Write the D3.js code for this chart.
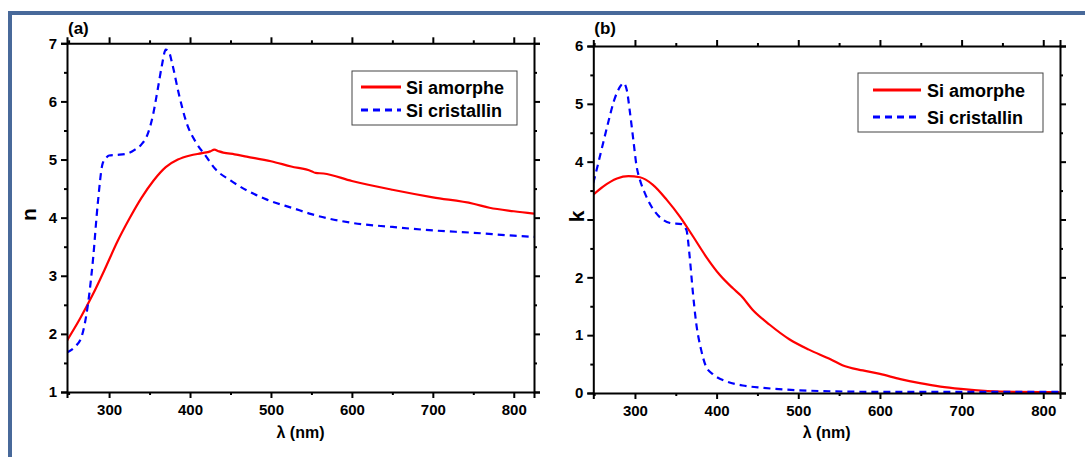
<!DOCTYPE html>
<html>
<head>
<meta charset="utf-8">
<script src="https://cdn.jsdelivr.net/npm/d3@7"></script>
<style>
  html, body { margin: 0; padding: 0; background: #fff; }
  svg { display: block; }
  text { font-family: "Liberation Sans", Arial, sans-serif; font-weight: bold; fill: #000; }
</style>
</head>
<body>
<svg id="chart" width="1085" height="457"></svg>
<script>
// ---- Data ----
const seriesNames = ["Si amorphe", "Si cristallin"];
const panelTitles = ["(a)", "(b)"];
const yLabels = ["n", "k"];
const xLabel = "λ (nm)";
const xTicksMajor = [300, 400, 500, 600, 700, 800];
const yTicksA = [1, 2, 3, 4, 5, 6, 7];
const yTicksB = [0, 1, 2, 3, 4, 5, 6];

// Panel (a): refractive index n
const lamA_amorphe = [248, 264, 280, 295, 310, 325, 340, 355, 370, 385, 400, 415, 425, 430, 436, 441, 455, 470, 500, 525, 550, 555, 565, 600, 650, 700, 750, 770, 800, 825];
const nA_amorphe   = [1.885, 2.26, 2.68, 3.12, 3.58, 3.98, 4.34, 4.64, 4.87, 5.00, 5.07, 5.11, 5.14, 5.17, 5.14, 5.12, 5.09, 5.05, 4.97, 4.88, 4.80, 4.77, 4.76, 4.63, 4.48, 4.35, 4.24, 4.17, 4.11, 4.07];
const lamA_crist   = [248, 258, 266, 274, 280, 286, 292, 297, 300, 310, 322, 332, 340, 348, 354, 360, 365, 370, 374, 378, 386, 396, 408, 419, 431, 450, 470, 495, 528, 550, 600, 650, 700, 750, 800, 825];
const nA_crist     = [1.68, 1.78, 1.95, 2.52, 3.26, 4.24, 4.93, 5.04, 5.07, 5.08, 5.10, 5.17, 5.26, 5.45, 5.75, 6.20, 6.60, 6.89, 6.85, 6.65, 6.14, 5.62, 5.28, 5.07, 4.84, 4.64, 4.47, 4.31, 4.16, 4.06, 3.91, 3.84, 3.78, 3.74, 3.69, 3.67];

// Panel (b): extinction coefficient k
const lamB_amorphe = [249, 261, 278, 292, 306, 322, 339, 355, 371, 387, 404, 420, 430, 444, 465, 489, 513, 540, 554, 579, 600, 625, 649, 674, 699, 732, 765, 820];
const kB_amorphe   = [3.43, 3.57, 3.71, 3.75, 3.73, 3.60, 3.34, 3.05, 2.71, 2.36, 2.04, 1.81, 1.68, 1.44, 1.18, 0.93, 0.75, 0.58, 0.48, 0.39, 0.33, 0.24, 0.17, 0.11, 0.07, 0.035, 0.02, 0.015];
const lamB_crist   = [249, 255, 261, 268, 274, 282, 286, 290, 294, 298, 302, 306, 312, 320, 332, 343, 357, 363, 367, 371, 375, 381, 387, 396, 412, 432, 456, 497, 538, 600, 700, 820];
const kB_crist     = [3.63, 3.97, 4.32, 4.72, 5.04, 5.30, 5.36, 5.24, 4.84, 4.38, 3.92, 3.69, 3.46, 3.23, 3.02, 2.94, 2.92, 2.82, 2.36, 1.73, 1.21, 0.75, 0.46, 0.32, 0.20, 0.13, 0.09, 0.05, 0.03, 0.02, 0.02, 0.02];

// ---- Drawing ----
const svg = d3.select("#chart");
const RED = "#ff0000", BLUE = "#0000ff";

// outer frame
svg.append("rect").attr("x", 10).attr("y", 13).attr("width", 1200).attr("height", 600)
  .attr("fill", "none").attr("stroke", "#48699a").attr("stroke-width", 4);

const panels = [
  { id: "a", left: 67, right: 534, top: 43.3, bottom: 392, xDom: [248, 825], yDom: [1, 7], yTicks: yTicksA,
    title: panelTitles[0], ylab: yLabels[0], ylabX: 36, ylabBg: false,
    series: [[lamA_amorphe, nA_amorphe], [lamA_crist, nA_crist]],
    legend: { x: 352, y: 71, w: 165, h: 54, lx1: 361, lx2: 401, tx: 406, rows: [87, 110] } },
  { id: "b", left: 593.3, right: 1060, top: 46, bottom: 393, xDom: [249, 820.5], yDom: [0, 6], yTicks: yTicksB,
    title: panelTitles[1], ylab: yLabels[1], ylabX: 584, ylabBg: true,
    series: [[lamB_amorphe, kB_amorphe], [lamB_crist, kB_crist]],
    legend: { x: 858, y: 73, w: 185, h: 59, lx1: 873, lx2: 921, tx: 927, rows: [90, 117] } }
];

panels.forEach(p => {
  const x = d3.scaleLinear().domain(p.xDom).range([p.left, p.right]);
  const y = d3.scaleLinear().domain(p.yDom).range([p.bottom, p.top]);
  const g = svg.append("g");

  const clipId = "clip-" + p.id;
  svg.append("clipPath").attr("id", clipId).append("rect")
    .attr("x", p.left).attr("y", p.top).attr("width", p.right - p.left).attr("height", p.bottom - p.top);

  // series
  const styles = [{ c: RED, dash: null }, { c: BLUE, dash: "7,5" }];
  p.series.forEach((s, i) => {
    const pts = s[0].map((l, j) => [l, s[1][j]]);
    const line = d3.line().x(d => x(d[0])).y(d => y(d[1])).curve(d3.curveMonotoneX);
    g.append("path").attr("d", line(pts)).attr("fill", "none")
      .attr("stroke", styles[i].c).attr("stroke-width", 2.2)
      .attr("stroke-dasharray", styles[i].dash)
      .attr("clip-path", `url(#${clipId})`);
  });

  // minor ticks
  const xMinor = d3.range(250, p.xDom[1] + 0.1, 50).filter(v => v % 100 !== 0);
  const yMinor = d3.range(p.yDom[0] + 0.5, p.yDom[1], 1);
  const xMaj = xTicksMajor.filter(v => v <= p.xDom[1]);

  // axes
  const axB = d3.axisBottom(x).tickValues(xMaj).tickSize(6).tickPadding(6).tickFormat(d3.format("d"));
  const axT = d3.axisTop(x).tickValues(xMaj).tickSize(6).tickFormat("");
  const axL = d3.axisLeft(y).tickValues(p.yTicks).tickSize(6).tickPadding(4).tickFormat(d3.format("d"));
  const axR = d3.axisRight(y).tickValues(p.yTicks).tickSize(6).tickFormat("");

  const mk = (axis, tr) => {
    const a = g.append("g").attr("transform", tr).call(axis);
    a.select(".domain").attr("stroke", "#000").attr("stroke-width", 2);
    a.selectAll(".tick line").attr("stroke", "#000").attr("stroke-width", 2);
    a.selectAll("text").style("font-size", "15px").attr("fill", "#000");
    return a;
  };
  mk(axB, `translate(0,${p.bottom})`);
  mk(axT, `translate(0,${p.top})`);
  mk(axL, `translate(${p.left},0)`);
  mk(axR, `translate(${p.right},0)`);

  const mkMinor = (axis, tr) => {
    const a = g.append("g").attr("transform", tr).call(axis);
    a.select(".domain").remove();
    a.selectAll(".tick line").attr("stroke", "#000").attr("stroke-width", 2);
  };
  mkMinor(d3.axisBottom(x).tickValues(xMinor).tickSize(3).tickFormat(""), `translate(0,${p.bottom})`);
  mkMinor(d3.axisTop(x).tickValues(xMinor).tickSize(3).tickFormat(""), `translate(0,${p.top})`);
  mkMinor(d3.axisLeft(y).tickValues(yMinor).tickSize(3).tickFormat(""), `translate(${p.left},0)`);
  mkMinor(d3.axisRight(y).tickValues(yMinor).tickSize(3).tickFormat(""), `translate(${p.right},0)`);

  // axis titles
  g.append("text").attr("x", (p.left + p.right) / 2).attr("y", 438).attr("text-anchor", "middle")
    .style("font-size", "16px").text(xLabel);
  const cy = (p.top + p.bottom) / 2 - 3;
  if (p.ylabBg) {
    g.append("rect").attr("x", p.ylabX - 17).attr("y", cy - 10).attr("width", 17).attr("height", 20).attr("fill", "#fff");
  }
  g.append("text").attr("transform", `translate(${p.ylabX},${cy}) rotate(-90)`)
    .attr("text-anchor", "middle").style("font-size", "21px").text(p.ylab);

  // panel title
  g.append("text").attr("x", p.left + 1).attr("y", 34).style("font-size", "17px").text(p.title);

  // legend
  const L = p.legend;
  g.append("rect").attr("x", L.x).attr("y", L.y).attr("width", L.w).attr("height", L.h)
    .attr("fill", "#fff").attr("stroke", "#444").attr("stroke-width", 1);
  seriesNames.forEach((nm, i) => {
    g.append("line").attr("x1", L.lx1).attr("x2", L.lx2).attr("y1", L.rows[i]).attr("y2", L.rows[i])
      .attr("stroke", styles[i].c).attr("stroke-width", 3).attr("stroke-dasharray", styles[i].dash);
    g.append("text").attr("x", L.tx).attr("y", L.rows[i] + 6.5).style("font-size", "18px").text(nm);
  });
});
</script>
</body>
</html>
